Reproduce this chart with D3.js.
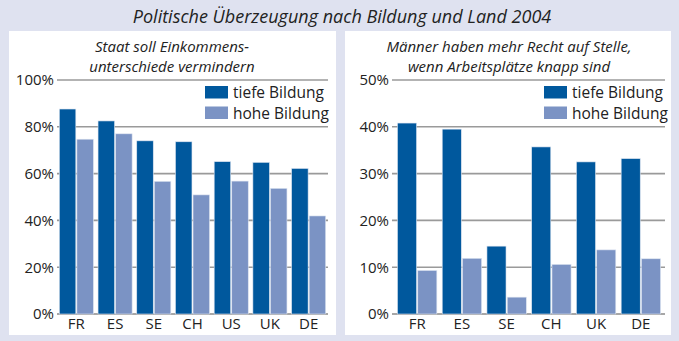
<!DOCTYPE html>
<html>
<head>
<meta charset="utf-8">
<script src="https://cdn.jsdelivr.net/npm/d3@7"></script>
<style>
  body { margin: 0; background: #dfe2f0; }
  svg { display: block; font-family: "Open Sans", sans-serif; }
</style>
</head>
<body>
<div id="chart"></div>
<script>
// Series labels
const seriesNames = ["tiefe Bildung", "hohe Bildung"];
const seriesColors = ["#00589d", "#7b93c4"];

// Left panel: Staat soll Einkommensunterschiede vermindern
const leftCountries = ["FR", "ES", "SE", "CH", "US", "UK", "DE"];
const leftTief = [87.6, 82.5, 74, 73.6, 65.1, 64.8, 62.2];
const leftHoch = [74.7, 77, 56.7, 50.9, 56.8, 53.7, 41.9];
const leftTicks = [0, 20, 40, 60, 80, 100];

// Right panel: Männer haben mehr Recht auf Stelle
const rightCountries = ["FR", "ES", "SE", "CH", "UK", "DE"];
const rightTief = [40.8, 39.5, 14.5, 35.7, 32.5, 33.2];
const rightHoch = [9.3, 11.9, 3.6, 10.6, 13.7, 11.8];
const rightTicks = [0, 10, 20, 30, 40, 50];

const W = 679, H = 341;
const svg = d3.select("#chart").append("svg")
  .attr("width", W)
  .attr("height", H);

svg.append("rect").attr("width", W).attr("height", H).attr("fill", "#dfe2f0");

svg.append("text")
  .attr("x", 342)
  .attr("y", 23)
  .attr("text-anchor", "middle")
  .attr("font-size", 18)
  .attr("font-style", "italic")
  .attr("fill", "#222")
  .text("Politische Überzeugung nach Bildung und Land 2004");

// Draw one panel
function drawPanel(opts) {
  const g = svg.append("g");

  g.append("rect")
    .attr("x", opts.panel[0])
    .attr("y", 31)
    .attr("width", opts.panel[1] - opts.panel[0])
    .attr("height", 304)
    .attr("fill", "#fff");

  opts.subtitle.forEach((line, i) => {
    g.append("text")
      .attr("x", opts.titleX)
      .attr("y", 52 + i * 19.5)
      .attr("text-anchor", "middle")
      .attr("font-size", 15)
      .attr("font-style", "italic")
      .attr("fill", "#222")
      .text(line);
  });

  const x = d3.scaleBand()
    .domain(opts.countries)
    .range(opts.barRange)
    .paddingInner(0.12)
    .paddingOuter(opts.outer);

  const xs = d3.scaleBand()
    .domain(seriesNames)
    .range([0, x.bandwidth()])
    .paddingInner(0.06);

  const y = d3.scaleLinear()
    .domain([0, opts.max])
    .range([314, 80]);

  // Gridlines
  g.append("g")
    .selectAll("line")
    .data(opts.ticks)
    .join("line")
    .attr("x1", opts.xRange[0])
    .attr("x2", opts.xRange[1])
    .attr("y1", d => y(d))
    .attr("y2", d => y(d))
    .attr("stroke", d => d === 0 ? "#8a8a8a" : "#9a9a9a")
    .attr("stroke-width", 1.6);

  // Y axis labels
  const yAxis = d3.axisLeft(y)
    .tickValues(opts.ticks)
    .tickFormat(d => d + "%")
    .tickSize(0)
    .tickPadding(3);

  g.append("g")
    .attr("transform", `translate(${opts.xRange[0]},0)`)
    .call(yAxis)
    .call(a => a.select(".domain").remove())
    .selectAll("text")
    .attr("font-size", 15)
    .attr("font-family", "Open Sans, sans-serif")
    .attr("fill", "#222");

  // X axis labels
  g.append("g")
    .attr("transform", "translate(0,314)")
    .call(d3.axisBottom(x).tickSize(0).tickPadding(4))
    .call(a => a.select(".domain").remove())
    .selectAll("text")
    .attr("font-size", 15)
    .attr("font-family", "Open Sans, sans-serif")
    .attr("fill", "#222");

  // Bars
  const rows = opts.countries.map((c, i) => ({
    country: c,
    values: [opts.tief[i], opts.hoch[i]]
  }));

  g.append("g")
    .selectAll("g")
    .data(rows)
    .join("g")
    .attr("transform", d => `translate(${x(d.country)},0)`)
    .selectAll("rect")
    .data(d => d.values.map((v, j) => ({ series: seriesNames[j], value: v, color: seriesColors[j] })))
    .join("rect")
    .attr("x", d => xs(d.series))
    .attr("y", d => y(d.value))
    .attr("width", xs.bandwidth())
    .attr("height", d => 314 - y(d.value))
    .attr("fill", d => d.color)
    .attr("stroke", "#dde4f0")
    .attr("stroke-width", 0.6);

  // Legend
  const lg = g.append("g")
    .attr("transform", `translate(${opts.legendX},86)`);
  seriesNames.forEach((name, i) => {
    lg.append("rect")
      .attr("x", 0)
      .attr("y", i * 20.5)
      .attr("width", 23)
      .attr("height", 12.5)
      .attr("fill", seriesColors[i]);
    lg.append("text")
      .attr("x", 28)
      .attr("y", i * 20.5 + 12)
      .attr("font-size", 15.5)
      .attr("fill", "#222")
      .text(name);
  });
}

drawPanel({
  panel: [9, 336],
  titleX: 172,
  subtitle: ["Staat soll Einkommens-", "unterschiede vermindern"],
  countries: leftCountries,
  tief: leftTief,
  hoch: leftHoch,
  ticks: leftTicks,
  max: 100,
  xRange: [57, 328],
  barRange: [57, 328],
  outer: 0.06,
  legendX: 205
});

drawPanel({
  panel: [345, 671],
  titleX: 509,
  subtitle: ["Männer haben mehr Recht auf Stelle,", "wenn Arbeitsplätze knapp sind"],
  countries: rightCountries,
  tief: rightTief,
  hoch: rightHoch,
  ticks: rightTicks,
  max: 50,
  xRange: [392, 665],
  barRange: [393, 665],
  outer: 0.1,
  legendX: 544
});
</script>
</body>
</html>
